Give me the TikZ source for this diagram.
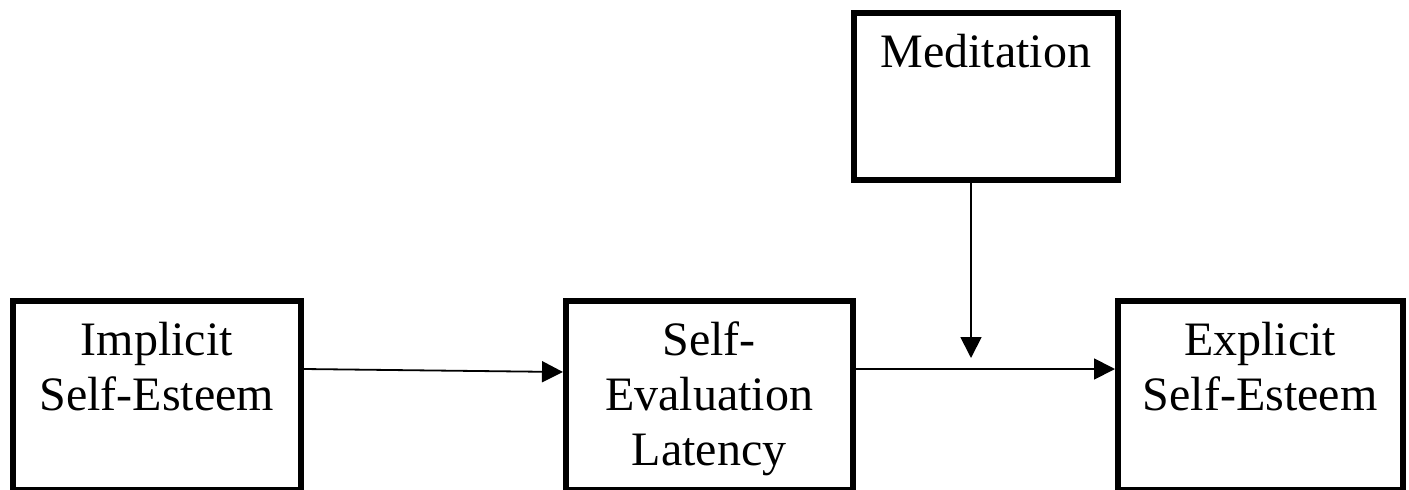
\documentclass[tikz,border=0pt]{standalone}
\usepackage{fontspec}
\setmainfont{Liberation Serif}
\usepackage{tikz}
\usetikzlibrary{arrows.meta, calc}

\begin{document}
\begin{tikzpicture}[x=1pt,y=-1pt,
	box/.style={shape=rectangle,draw=black,line width=5.5pt,anchor=north west,inner sep=0pt,align=center,text height=55pt,font=\fontsize{48}{55}\selectfont},
	link/.style={-{Triangle[length=21pt,width=21pt]},line width=1.8pt,black}]
				\useasboundingbox (0,0) rectangle (1409,490);
				\node[box,text width=288pt,text depth=134pt] (impl) at (10,298) {Implicit\\Self-Esteem};
				\node[box,text width=287pt,text depth=134pt] (selfeval) at (563,298) {Self-\\Evaluation\\Latency};
				\node[box,text width=285pt,text depth=134pt] (expl) at (1115,298) {Explicit\\Self-Esteem};
				\node[box,text width=264pt,text depth=112pt] (medit) at (851,10) {Meditation};
				\coordinate (join) at (971,358);
				
				
				\path [link] ($(impl.north east)+(0,71)$) edge ($(selfeval.north west)+(0,74)$);
				\path [link] ($(selfeval.north east)+(0,71)$) edge ($(expl.north west)+(0,71)$);
				\path [link] (medit.south -| join) edge (join);
				\end{tikzpicture}
\end{document}
